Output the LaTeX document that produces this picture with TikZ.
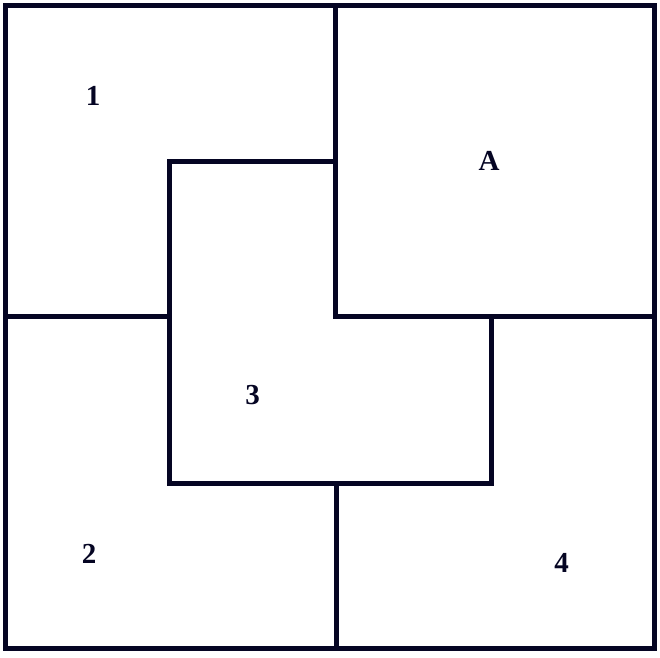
\documentclass[tikz,border=0pt]{standalone}
\usepackage{fontspec}
\setmainfont{Liberation Serif}
\definecolor{ink}{RGB}{5,5,35}
\tikzset{wall/.style={draw=ink,line width=5pt,line cap=rect},
  lab/.style={text=ink,font=\fontsize{29}{29}\selectfont\bfseries,inner sep=0pt}}
\begin{document}
\begin{tikzpicture}[x=1pt,y=-1pt]
\useasboundingbox (0,0) rectangle (660,657);
\draw[wall] (5.5,5.5) rectangle (654,648);
\draw[wall] (335,5.5) -- (335,316.5) -- (654,316.5);
\draw[wall] (5.5,316) -- (169,316);
\draw[wall] (335,161.7) -- (169,161.7) -- (169,483.5) -- (491,483.5) -- (491,316.5);
\draw[wall] (336,483.5) -- (336,648);
\node[lab] (n1) at (93,96) {1};
\node[lab] (nA) at (489,161) {A};
\node[lab] (n3) at (252.5,395) {3};
\node[lab] (n2) at (89,554) {2};
\node[lab] (n4) at (561.5,562.5) {4};
\end{tikzpicture}
\end{document}
